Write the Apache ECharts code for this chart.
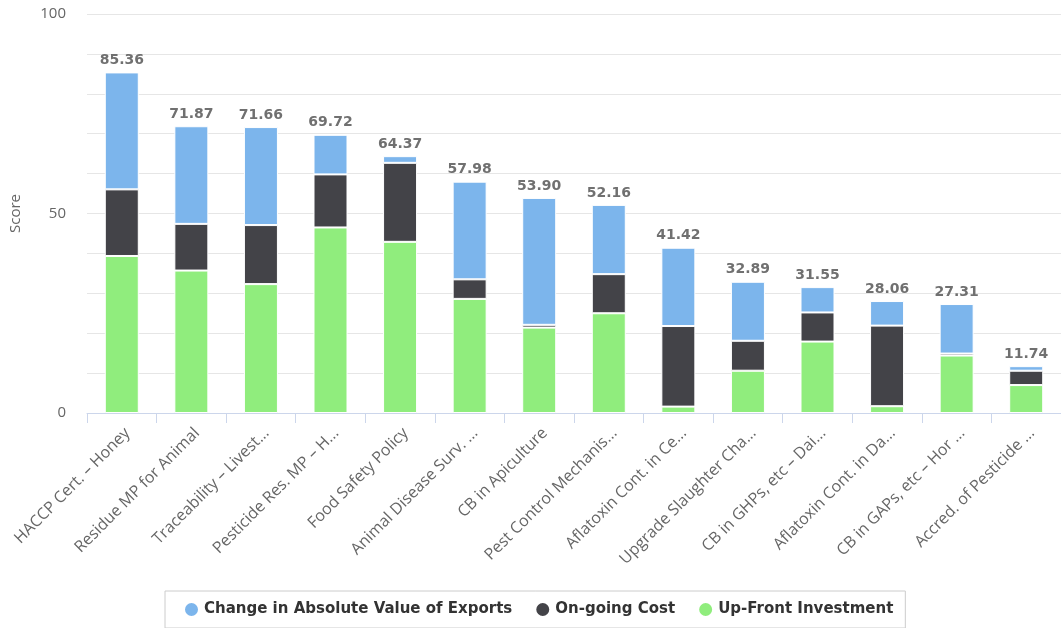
<!DOCTYPE html>
<html>
<head>
<meta charset="utf-8">
<title>Score by measure</title>
<script src="https://cdn.jsdelivr.net/npm/echarts@6/dist/echarts.min.js"></script>
<style>
  html, body { margin: 0; padding: 0; background: #fff; }
  #chart { width: 1061px; height: 628px; }
</style>
</head>
<body>
<div id="chart"></div>
<script>
// Measures, in descending order of total score
const categories = [
  'HACCP Cert. – Honey',
  'Residue MP for Animal',
  'Traceability – Livest...',
  'Pesticide Res. MP – H...',
  'Food Safety Policy',
  'Animal Disease Surv. ...',
  'CB in Apiculture',
  'Pest Control Mechanis...',
  'Aflatoxin Cont. in Ce...',
  'Upgrade Slaughter Cha...',
  'CB in GHPs, etc – Dai...',
  'Aflatoxin Cont. in Da...',
  'CB in GAPs, etc – Hor ...',
  'Accred. of Pesticide ...'
];

// Total score per measure (shown above each stack)
const totals = [85.36, 71.87, 71.66, 69.72, 64.37, 57.98, 53.90, 52.16, 41.42, 32.89, 31.55, 28.06, 27.31, 11.74];

// Score components
const upFront = [39.35, 35.7, 32.3, 46.5, 42.9, 28.6, 21.4, 25.0, 1.6, 10.6, 17.9, 1.7, 14.4, 7.0];
const onGoing = [16.7, 11.7, 14.8, 13.3, 19.8, 4.9, 0.7, 9.8, 20.2, 7.5, 7.3, 20.2, 0.5, 3.6];

// Export-value component is the remainder of the total
const exportsChange = totals.map((t, i) => +(t - upFront[i] - onGoing[i]).toFixed(2));

const yTickLabels = ['0', '50', '100'];

const chart = echarts.init(document.getElementById('chart'));

const AXIS_FONT = 'Open Sans, DejaVu Sans, sans-serif';
const BOLD_FONT = 'DejaVu Sans, Verdana, sans-serif';
const segStyle = (color) => ({ color: color, borderColor: '#ffffff', borderWidth: 1 });

chart.setOption({
  animation: false,
  textStyle: { fontFamily: AXIS_FONT },
  grid: { left: 86, right: 0, top: 14, bottom: 215, containLabel: false },
  legend: {
    left: 165,
    top: 591,
    padding: [10, 12, 10, 18],
    borderColor: '#cccccc',
    borderWidth: 1,
    borderRadius: 0,
    itemGap: 22,
    itemWidth: 15,
    itemHeight: 15,
    icon: 'circle',
    textStyle: {
      fontFamily: BOLD_FONT,
      fontWeight: 'bold',
      fontSize: 15,
      color: '#333333'
    },
    data: ['Change in Absolute Value of Exports', 'On-going Cost', 'Up-Front Investment']
  },
  xAxis: {
    type: 'category',
    data: categories,
    axisLine: { lineStyle: { color: '#ccd6eb' } },
    axisTick: { show: true, alignWithLabel: false, length: 10, lineStyle: { color: '#ccd6eb' } },
    axisLabel: {
      rotate: 45,
      interval: 0,
      color: '#666666',
      fontFamily: AXIS_FONT,
      fontSize: 16,
      margin: 12,
      verticalAlign: 'top'
    }
  },
  yAxis: {
    type: 'value',
    min: 0,
    max: 100,
    interval: 10,
    name: 'Score',
    nameLocation: 'middle',
    nameGap: 64,
    nameTextStyle: { color: '#666666', fontSize: 15, fontFamily: AXIS_FONT },
    axisLine: { show: false },
    axisTick: { show: false },
    splitLine: { lineStyle: { color: '#e6e6e6' } },
    axisLabel: {
      color: '#666666',
      fontFamily: AXIS_FONT,
      fontSize: 15,
      margin: 21,
      formatter: (v) => (yTickLabels.indexOf(String(v)) >= 0 ? String(v) : '')
    }
  },
  series: [
    {
      name: 'Up-Front Investment',
      type: 'bar',
      stack: 'score',
      barWidth: 34,
      itemStyle: segStyle('#90ed7d'),
      data: upFront
    },
    {
      name: 'On-going Cost',
      type: 'bar',
      stack: 'score',
      barWidth: 34,
      itemStyle: segStyle('#434348'),
      data: onGoing
    },
    {
      name: 'Change in Absolute Value of Exports',
      type: 'bar',
      stack: 'score',
      barWidth: 34,
      itemStyle: segStyle('#7cb5ec'),
      label: {
        show: true,
        position: 'top',
        distance: 5,
        color: '#707070',
        fontFamily: BOLD_FONT,
        fontWeight: 'bold',
        fontSize: 14,
        formatter: (p) => totals[p.dataIndex].toFixed(2)
      },
      data: exportsChange
    }
  ]
});
</script>
</body>
</html>
